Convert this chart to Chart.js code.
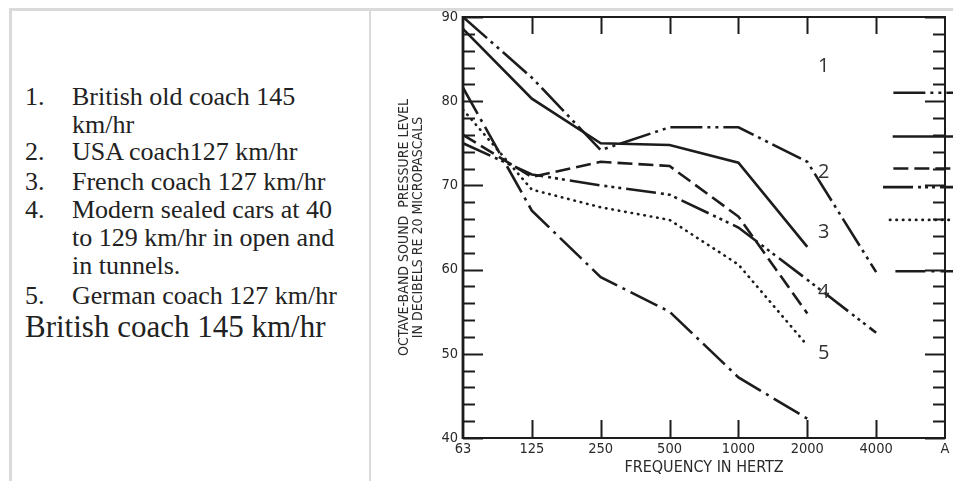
<!DOCTYPE html>
<html><head><meta charset="utf-8">
<script src="https://cdn.jsdelivr.net/npm/chart.js@4.4.1/dist/chart.umd.min.js"></script>
<style>
html,body{margin:0;padding:0;background:#fff;width:953px;height:481px;overflow:hidden;}
body{position:relative;font-family:"Liberation Serif","Times New Roman",serif;color:#222;}
.bt{position:absolute;left:9px;top:8px;width:944px;height:3px;background:#dadada}
.bl{position:absolute;left:9px;top:8px;width:3px;height:473px;background:#dadada}
.bm{position:absolute;left:369px;top:8px;width:2px;height:473px;background:#dadada}
.ln{position:absolute;white-space:nowrap;font-size:26px;line-height:30px;}
.num{left:25px}
.txt{left:72px}
.big{position:absolute;left:25px;white-space:nowrap;font-size:31px;line-height:36px;}
canvas{position:absolute;left:372px;top:11px}
</style></head>
<body>
<div class="bt"></div><div class="bl"></div><div class="bm"></div>
<div class="ln num" style="top:82px">1.</div><div class="ln txt" style="top:82px">British old coach 145</div>
<div class="ln txt" style="top:110px">km/hr</div>
<div class="ln num" style="top:137px">2.</div><div class="ln txt" style="top:137px">USA coach127 km/hr</div>
<div class="ln num" style="top:167px">3.</div><div class="ln txt" style="top:167px">French coach 127 km/hr</div>
<div class="ln num" style="top:195px">4.</div><div class="ln txt" style="top:195px">Modern sealed cars at 40</div>
<div class="ln txt" style="top:223px">to 129 km/hr in open and</div>
<div class="ln txt" style="top:251px">in tunnels.</div>
<div class="ln num" style="top:281px">5.</div><div class="ln txt" style="top:281px">German coach 127 km/hr</div>
<div class="big" style="top:309px">British coach 145 km/hr</div>
<canvas id="c" width="581" height="470"></canvas>
<script>
// categories (octave-band centre frequencies) and tick labels
const freqLabels = ['63','125','250','500','1000','2000','4000','A'];
const yTickValues = [40, 50, 60, 70, 80, 90];

// series values (dB) at each octave band, index-aligned with freqLabels
const britishOld145 = [90.0, 82.8, 74.2, 76.9, 76.9, 72.8, 59.7];   // dash-dot-dot
const usa127        = [88.6, 80.3, 75.0, 74.8, 72.7, 62.7];         // solid
const french127     = [76.0, 71.0, 72.8, 72.3, 66.3, 54.8];         // dashed
const modernSealed  = [75.0, 71.3, 70.0, 68.9, 65.0, 58.8, 52.5];   // dash-dot-dot-dot
const german127     = [79.0, 69.5, 67.4, 65.9, 60.6, 51.0];         // dotted
const british145    = [81.6, 67.0, 59.1, 55.0, 47.2, 42.3];         // dash-dot

// legend key levels (dB) on the right margin
const keyLevels = [81.0, 75.8, 72.0, 69.8, 65.9, 59.8];
const keyStart  = [6.25, 6.24, 6.25, 6.10, 6.20, 6.28];
const keyEnd    = 7.12;

// curve number annotations
const noteText  = ['1', '2', '3', '4', '5'];
const noteX     = [5.24, 5.24, 5.24, 5.24, 5.24];
const noteY     = [84.1, 71.6, 64.4, 57.3, 50.1];

const styles = [
  {dash:[32,5,3,5,3,5], cap:'butt'},
  {dash:[], cap:'butt'},
  {dash:[15,6], cap:'butt'},
  {dash:[30,5,3,4,3,4,3,5], cap:'butt'},
  {dash:[0.5,6], cap:'round'},
  {dash:[30,6,3,6], cap:'butt'}
];
const series = [britishOld145, usa127, french127, modernSealed, german127, british145];
const names = ['British old coach 145 km/hr','USA coach 127 km/hr','French coach 127 km/hr','Modern sealed cars','German coach 127 km/hr','British coach 145 km/hr'];
const LINE = '#1c1c1c';

const datasets = [];
series.forEach((s, k) => {
  datasets.push({
    label: names[k],
    data: s.map((v, i) => ({x: i, y: v})),
    borderColor: LINE, borderWidth: 2.6, borderDash: styles[k].dash,
    borderCapStyle: styles[k].cap, pointRadius: 0, tension: 0, fill: false
  });
});
keyLevels.forEach((v, k) => {
  datasets.push({
    label: 'key ' + (k + 1),
    data: [{x: keyStart[k], y: v}, {x: keyEnd, y: v}],
    borderColor: LINE, borderWidth: 2.6, borderDash: styles[k].dash,
    borderCapStyle: styles[k].cap, pointRadius: 0, tension: 0, fill: false, clip: false
  });
});

const frame = {
  id: 'frame',
  afterDraw(chart) {
    const {ctx, chartArea: a, scales: {x, y}} = chart;
    ctx.save();
    ctx.strokeStyle = LINE;
    ctx.lineWidth = 2;
    ctx.strokeRect(a.left, a.top, a.right - a.left, a.bottom - a.top);
    ctx.lineWidth = 2.8;
    ctx.beginPath(); ctx.moveTo(a.left, a.top - 1); ctx.lineTo(a.left, a.bottom + 1); ctx.stroke();
    ctx.lineWidth = 2;
    ctx.beginPath();
    for (let v = 40; v <= 90; v += 2) {
      const py = Math.round(y.getPixelForValue(v)) + 0.5;
      const len = (v % 10 === 0) ? 20 : 12;
      ctx.moveTo(a.left, py); ctx.lineTo(a.left + len, py);
      ctx.moveTo(a.right, py); ctx.lineTo(a.right - len, py);
    }
    for (let i = 1; i < freqLabels.length - 1; i++) {
      const px = Math.round(x.getPixelForValue(i)) + 0.5;
      ctx.moveTo(px, a.top); ctx.lineTo(px, a.top + 17);
      ctx.moveTo(px, a.bottom); ctx.lineTo(px, a.bottom - 18);
    }
    ctx.stroke();
    ctx.fillStyle = '#333';
    ctx.font = '20px "Open Sans", "Noto Sans", sans-serif';
    ctx.textAlign = 'center';
    ctx.textBaseline = 'middle';
    noteText.forEach((t, i) => ctx.fillText(t, x.getPixelForValue(noteX[i]), y.getPixelForValue(noteY[i])));
    ctx.restore();
  }
};

const axisFam = '"Liberation Sans Narrow", "DejaVu Sans Condensed", "Liberation Sans", sans-serif';
const axisFont = {family: axisFam, size: 14.5};
new Chart(document.getElementById('c'), {
  type: 'line',
  data: {datasets},
  plugins: [frame],
  options: {
    responsive: false, animation: false, devicePixelRatio: 1,
    layout: {padding: {top: 6, right: 8, left: 0, bottom: 0}},
    plugins: {legend: {display: false}, tooltip: {enabled: false}},
    scales: {
      x: {
        type: 'linear', min: 0, max: 7,
        grid: {display: false, drawTicks: false}, border: {display: false},
        ticks: {stepSize: 1, padding: 3, color: '#2a2a2a', font: axisFont, maxRotation: 0,
                callback: v => freqLabels[v] ?? ''},
        title: {display: true, text: 'FREQUENCY IN HERTZ', color: '#2a2a2a',
                font: {family: axisFam, size: 16}, padding: {top: 0, bottom: 4}},
        afterFit: s => { s.height = 43; s.paddingLeft = 0; s.paddingRight = 0; }
      },
      y: {
        min: 40, max: 90,
        grid: {display: false, drawTicks: false}, border: {display: false},
        afterBuildTicks: s => { s.ticks = yTickValues.map(v => ({value: v})); },
        ticks: {padding: 5, color: '#2a2a2a', font: axisFont},
        title: {display: true, text: ['OCTAVE-BAND SOUND  PRESSURE LEVEL', 'IN DECIBELS RE 20 MICROPASCALS'],
                color: '#2a2a2a', font: {family: axisFam, size: 14, lineHeight: 0.96},
                padding: {top: 26, bottom: 0}},
        afterFit: s => { s.width = 91; s.paddingTop = 0; s.paddingBottom = 0; }
      }
    }
  }
});
</script>
</body></html>
